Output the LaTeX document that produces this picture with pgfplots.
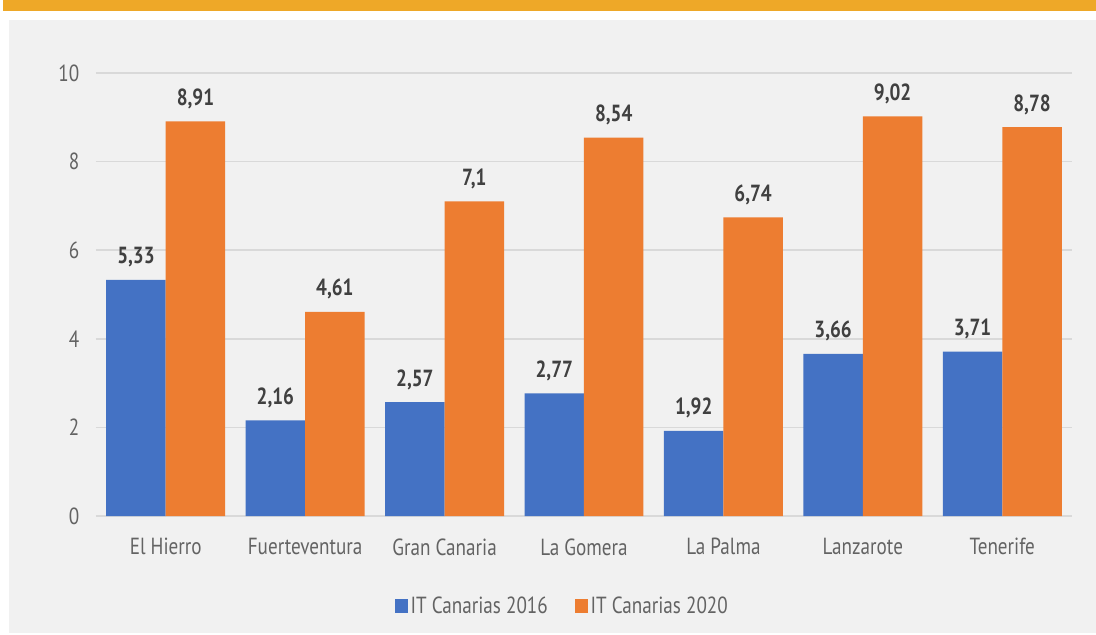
\documentclass[border=0pt]{standalone}
\usepackage{fontspec}
\setmainfont{PT Sans}[FakeStretch=0.82]
\usepackage{pgfplots}
\pgfplotsset{compat=1.18}
\definecolor{cblue}{HTML}{4472C4}
\definecolor{corange}{HTML}{ED7D31}
\definecolor{band}{HTML}{EEA828}
\definecolor{panel}{HTML}{F1F1F1}
\definecolor{gridc}{HTML}{D9D9D9}
\definecolor{txt}{HTML}{636363}
\definecolor{lbl}{HTML}{404040}

\pgfplotstableread{
x v2016 v2020
0 5.33 8.91
1 2.16 4.61
2 2.57 7.1
3 2.77 8.54
4 1.92 6.74
5 3.66 9.02
6 3.71 8.78
}\islas

\begin{document}
\begin{tikzpicture}[font=\fontsize{17.5}{20}\selectfont]
% page frame, orange band, grey panel (1px = 0.75pt, axis origin at px (96,516))
\fill[white] (-72pt,-89.25pt) rectangle (750pt,387pt);
\fill[band] (-69.75pt,379pt) rectangle (750pt,387pt);
\fill[panel] (-65.25pt,-87.75pt) rectangle (750pt,372pt);
\begin{axis}[
    at={(0,0)}, anchor=south west,
    scale only axis,
    width=732pt, height=332.25pt,
    ybar=0pt, bar width=44.6pt,
    xmin=-0.5, xmax=6.5,
    ymin=0, ymax=10,
    ytick={0,2,...,10},
    xtick={0,...,6},
    xticklabels={El Hierro,Fuerteventura,Gran Canaria,La Gomera,La Palma,Lanzarote,Tenerife},
    axis line style={draw=none},
    tick style={draw=none},
    ymajorgrids,
    grid style={gridc, line width=1.2pt},
    yticklabel style={txt, xshift=-9pt},
    xticklabel style={txt, yshift=-9pt},
    /pgf/number format/assume math mode=true,
    /pgf/number format/use comma,
    nodes near coords,
    nodes near coords style={lbl, font=\fontsize{17.5}{20}\selectfont\bfseries, anchor=base, yshift=12pt,
        /pgf/number format/use comma, /pgf/number format/precision=2},
    legend style={at={(0.478,-0.203)}, anchor=center, draw=none, fill=none,
        font=\fontsize{17.5}{20}\selectfont\color{txt},
        legend columns=2, /tikz/every even column/.append style={column sep=18pt}},
    legend image code/.code={\fill[#1] (0pt,-5pt) rectangle (10pt,5pt);},
]
\addplot[fill=cblue, draw=none] table[x=x, y=v2016] {\islas};
\addplot[fill=corange, draw=none] table[x=x, y=v2020] {\islas};
\legend{IT Canarias 2016, IT Canarias 2020}
\end{axis}
\end{tikzpicture}
\end{document}
